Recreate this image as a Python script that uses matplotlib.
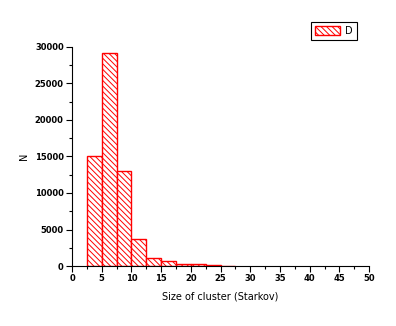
import matplotlib
matplotlib.use('Agg')
import matplotlib.pyplot as plt
from matplotlib.ticker import MultipleLocator

# Histogram of cluster sizes (bin width 2.5)
bin_left = [2.5, 5.0, 7.5, 10.0, 12.5, 15.0, 17.5, 20.0, 22.5, 25.0]
counts = [15050, 29150, 13000, 3700, 1150, 650, 280, 250, 110, 60]
bin_width = 2.5

plt.rcParams['hatch.color'] = 'red'
plt.rcParams['hatch.linewidth'] = 0.7

fig = plt.figure(figsize=(3.96, 3.26), dpi=100)
ax = fig.add_axes([0.182, 0.184, 0.750, 0.672])

ax.bar(bin_left, counts, width=bin_width, align='edge',
       facecolor='white', edgecolor='red', linewidth=1.0,
       hatch='\\\\\\\\\\\\', label='D')

ax.set_xlim(0, 50)
ax.set_ylim(0, 30000)
ax.xaxis.set_major_locator(MultipleLocator(5))
ax.xaxis.set_minor_locator(MultipleLocator(2.5))
ax.yaxis.set_major_locator(MultipleLocator(5000))
ax.yaxis.set_minor_locator(MultipleLocator(2500))

for s in ['top', 'right']:
    ax.spines[s].set_visible(False)
for s in ['left', 'bottom']:
    ax.spines[s].set_linewidth(0.8)

ax.tick_params(which='major', direction='out', length=4, width=0.8,
               labelsize=6, pad=2)
ax.tick_params(which='minor', direction='out', length=2, width=0.8)
for lab in ax.get_xticklabels() + ax.get_yticklabels():
    lab.set_fontweight('bold')

ax.set_xlabel('Size of cluster (Starkov)', fontsize=7, labelpad=6)
ax.set_ylabel('N', fontsize=7, labelpad=4)

leg = ax.legend(loc='upper right', bbox_to_anchor=(0.975, 1.135),
                fontsize=7, fancybox=False, framealpha=1,
                handlelength=2.6, handleheight=1.0, borderpad=0.4,
                handletextpad=0.5)
leg.get_frame().set_edgecolor('black')
leg.get_frame().set_linewidth(0.8)

fig.savefig('out.png', dpi=100)
